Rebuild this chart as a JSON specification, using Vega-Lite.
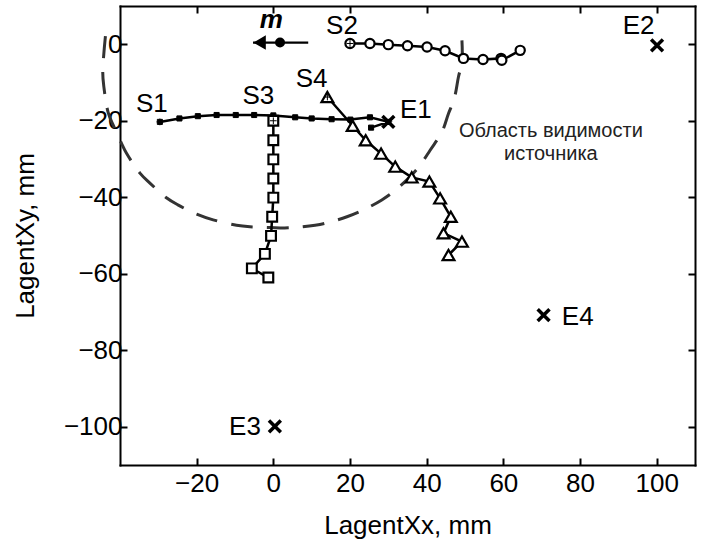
{
  "$schema": "https://vega.github.io/schema/vega-lite/v6.json",
  "width": 575,
  "height": 459,
  "autosize": "none",
  "padding": {"left": 120, "top": 6, "right": 9, "bottom": 83},
  "background": "white",
  "config": {
    "view": {"stroke": null},
    "font": "Liberation Sans",
    "axis": {
      "grid": false,
      "domainColor": "black",
      "domainWidth": 2,
      "domainCap": "square",
      "tickColor": "black",
      "tickWidth": 2,
      "tickSize": -7,
      "labelFont": "Liberation Sans",
      "labelFontSize": 26,
      "labelColor": "black",
      "titleFont": "Liberation Sans",
      "titleFontSize": 26,
      "titleFontWeight": "normal",
      "titleColor": "black"
    }
  },
  "datasets": {
    "ellipse": [
      {"x": -43.8, "y": 2.1}, {"x": -44.5, "y": -7.3}, {"x": -44.2, "y": -11.2}, {"x": -43.1, "y": -17.8},
      {"x": -41.8, "y": -21.1}, {"x": -39.6, "y": -25.9}, {"x": -38.3, "y": -28.5}, {"x": -34.8, "y": -33.7},
      {"x": -32.2, "y": -36.3}, {"x": -27.8, "y": -40.2}, {"x": -24.9, "y": -42.0}, {"x": -20.0, "y": -44.4},
      {"x": -15.7, "y": -45.9}, {"x": -9.6, "y": -47.3}, {"x": -6.1, "y": -47.7}, {"x": -0.9, "y": -47.9},
      {"x": 3.9, "y": -48.0}, {"x": 10.9, "y": -47.3}, {"x": 13.9, "y": -46.7}, {"x": 19.2, "y": -45.1},
      {"x": 23.5, "y": -43.3}, {"x": 28.3, "y": -40.7}, {"x": 31.3, "y": -38.6}, {"x": 35.7, "y": -34.6},
      {"x": 38.3, "y": -31.6}, {"x": 40.9, "y": -27.7}, {"x": 44.0, "y": -22.9}, {"x": 45.7, "y": -18.1},
      {"x": 47.2, "y": -14.2}, {"x": 48.3, "y": -8.5}, {"x": 49.2, "y": -4.7}, {"x": 49.2, "y": 1.0}
    ],
    "paths": [
      {"s": "S1", "x": -29.6, "y": -20.3}, {"s": "S1", "x": -24.5, "y": -19.4}, {"s": "S1", "x": -19.7, "y": -18.8},
      {"s": "S1", "x": -14.8, "y": -18.5}, {"s": "S1", "x": -9.8, "y": -18.5}, {"s": "S1", "x": -5.0, "y": -18.5},
      {"s": "S1", "x": 0.0, "y": -18.6}, {"s": "S1", "x": 5.7, "y": -19.1}, {"s": "S1", "x": 10.0, "y": -19.4},
      {"s": "S1", "x": 15.2, "y": -19.6}, {"s": "S1", "x": 20.1, "y": -19.7}, {"s": "S1", "x": 25.2, "y": -19.1},
      {"s": "S1", "x": 30.0, "y": -20.3}, {"s": "S1", "x": 25.5, "y": -21.8},
      {"s": "S2", "x": 20.0, "y": 0.2}, {"s": "S2", "x": 25.2, "y": 0.2}, {"s": "S2", "x": 30.0, "y": -0.1},
      {"s": "S2", "x": 35.0, "y": -0.4}, {"s": "S2", "x": 40.1, "y": -0.7}, {"s": "S2", "x": 44.8, "y": -1.7},
      {"s": "S2", "x": 49.6, "y": -3.7}, {"s": "S2", "x": 54.7, "y": -4.0}, {"s": "S2", "x": 59.4, "y": -3.7},
      {"s": "S2", "x": 59.6, "y": -4.2}, {"s": "S2", "x": 64.4, "y": -1.6},
      {"s": "S3", "x": 0.0, "y": -20.0}, {"s": "S3", "x": 0.0, "y": -25.1}, {"s": "S3", "x": 0.0, "y": -30.1},
      {"s": "S3", "x": 0.0, "y": -35.1}, {"s": "S3", "x": 0.0, "y": -40.1}, {"s": "S3", "x": -0.3, "y": -45.1},
      {"s": "S3", "x": -0.6, "y": -50.1}, {"s": "S3", "x": -2.2, "y": -54.8}, {"s": "S3", "x": -5.6, "y": -58.6},
      {"s": "S3", "x": -1.3, "y": -61.0},
      {"s": "S4", "x": 14.1, "y": -13.8}, {"s": "S4", "x": 20.7, "y": -21.3}, {"s": "S4", "x": 24.1, "y": -25.1},
      {"s": "S4", "x": 28.1, "y": -28.6}, {"s": "S4", "x": 31.8, "y": -32.0}, {"s": "S4", "x": 36.1, "y": -34.8},
      {"s": "S4", "x": 40.7, "y": -35.9}, {"s": "S4", "x": 43.5, "y": -40.3}, {"s": "S4", "x": 46.3, "y": -45.1},
      {"s": "S4", "x": 44.4, "y": -49.4}, {"s": "S4", "x": 49.2, "y": -51.6}, {"s": "S4", "x": 45.7, "y": -55.1}
    ],
    "starts": [
      {"x": -29.6, "y": -20.3}, {"x": 20.0, "y": 0.2}, {"x": 0.0, "y": -20.0}, {"x": 14.1, "y": -13.8}
    ],
    "ends": [
      {"x": 30.0, "y": -20.3}, {"x": 100.1, "y": -0.3}, {"x": 0.4, "y": -99.9}, {"x": 70.5, "y": -70.8}
    ],
    "labels": [
      {"x": -31.7, "y": -17.6, "t": "S1"}, {"x": 17.9, "y": 2.8, "t": "S2"}, {"x": -3.9, "y": -15.5, "t": "S3"},
      {"x": 10.0, "y": -11.1, "t": "S4"}, {"x": 37.2, "y": -19.4, "t": "E1"}, {"x": 95.3, "y": 2.8, "t": "E2"},
      {"x": -7.4, "y": -102.1, "t": "E3"}, {"x": 79.4, "y": -73.4, "t": "E4"}
    ],
    "notes": [
      {"x": 72.4, "y": -24.2, "t": "Область видимости"}, {"x": 72.4, "y": -30.3, "t": "источника"}
    ],
    "arrow": [{"x": -5.3, "y": 0.44}, {"x": 9.1, "y": 0.44}],
    "dot": [{"x": 1.75, "y": 0.44}],
    "head": [{"x": -3.6, "y": 0.44}],
    "mlabel": [{"x": -0.5, "y": 4.2, "t": "m"}]
  },
  "resolve": {"axis": {"x": "independent", "y": "independent"}},
  "encoding": {
    "x": {"field": "x", "type": "quantitative", "scale": {"domain": [-40, 110], "nice": false, "zero": false}, "axis": null},
    "y": {"field": "y", "type": "quantitative", "scale": {"domain": [-110, 10], "nice": false, "zero": false}, "axis": null}
  },
  "layer": [
    {
      "data": {"name": "ellipse"},
      "mark": {"type": "line", "stroke": "#333333", "strokeWidth": 3, "strokeDash": [22, 14], "interpolate": "catmull-rom"},
      "encoding": {
        "x": {"field": "x", "type": "quantitative", "scale": {"domain": [-40, 110], "nice": false, "zero": false},
          "axis": {"orient": "bottom", "values": [-20, 0, 20, 40, 60, 80, 100], "title": "LagentXx, mm", "labelPadding": 12, "titlePadding": 16, "labelFlush": false, "labelOverlap": false}},
        "y": {"field": "y", "type": "quantitative", "scale": {"domain": [-110, 10], "nice": false, "zero": false},
          "axis": {"orient": "left", "values": [-100, -80, -60, -40, -20, 0], "title": "LagentXy, mm", "labelPadding": 5, "titlePadding": 25, "labelFlush": false, "labelOverlap": false}},
        "order": {"value": null}
      }
    },
    {
      "data": {"name": "ellipse"},
      "mark": {"type": "point", "opacity": 0},
      "encoding": {
        "x": {"field": "x", "type": "quantitative", "scale": {"domain": [-40, 110], "nice": false, "zero": false},
          "axis": {"orient": "top", "values": [-20, 0, 20, 40, 60, 80, 100], "labels": false, "title": null}},
        "y": {"field": "y", "type": "quantitative", "scale": {"domain": [-110, 10], "nice": false, "zero": false},
          "axis": {"orient": "right", "values": [-100, -80, -60, -40, -20, 0], "labels": false, "title": null}}
      }
    },
    {
      "data": {"name": "paths"},
      "mark": {"type": "line", "stroke": "black", "strokeWidth": 2.5},
      "encoding": {"detail": {"field": "s"}, "order": {"value": null}}
    },
    {
      "data": {"name": "paths"},
      "transform": [{"filter": "datum.s === 'S1'"}],
      "mark": {"type": "point", "shape": "square", "size": 26, "filled": true, "fill": "black", "stroke": "black", "strokeWidth": 1, "opacity": 1},
      "encoding": {}
    },
    {
      "data": {"name": "paths"},
      "transform": [{"filter": "datum.s === 'S2'"}],
      "mark": {"type": "point", "shape": "circle", "size": 85, "filled": true, "fill": "white", "stroke": "black", "strokeWidth": 2.2, "opacity": 1},
      "encoding": {}
    },
    {
      "data": {"name": "paths"},
      "transform": [{"filter": "datum.s === 'S3'"}],
      "mark": {"type": "point", "shape": "square", "size": 95, "filled": true, "fill": "white", "stroke": "black", "strokeWidth": 2.2, "opacity": 1},
      "encoding": {}
    },
    {
      "data": {"name": "paths"},
      "transform": [{"filter": "datum.s === 'S4'"}],
      "mark": {"type": "point", "shape": "triangle-up", "size": 140, "filled": true, "fill": "white", "stroke": "black", "strokeWidth": 2.2, "opacity": 1},
      "encoding": {}
    },
    {
      "data": {"name": "starts"},
      "mark": {"type": "point", "shape": "M-1,0L1,0M0,-1L0,1", "size": 45, "stroke": "black", "strokeWidth": 1, "filled": false, "opacity": 1},
      "encoding": {}
    },
    {
      "data": {"name": "ends"},
      "mark": {"type": "point", "shape": "M-1,-1L1,1M1,-1L-1,1", "size": 140, "stroke": "black", "strokeWidth": 3.5, "filled": false, "opacity": 1},
      "encoding": {}
    },
    {
      "data": {"name": "arrow"},
      "mark": {"type": "line", "stroke": "black", "strokeWidth": 2.2},
      "encoding": {"order": {"value": null}}
    },
    {
      "data": {"name": "dot"},
      "mark": {"type": "point", "shape": "circle", "size": 100, "filled": true, "fill": "black", "opacity": 1},
      "encoding": {}
    },
    {
      "data": {"name": "head"},
      "mark": {"type": "point", "shape": "triangle-left", "size": 210, "filled": true, "fill": "black", "opacity": 1},
      "encoding": {}
    },
    {
      "data": {"name": "labels"},
      "mark": {"type": "text", "fontSize": 26, "font": "Liberation Sans", "align": "center", "baseline": "alphabetic", "fill": "black"},
      "encoding": {"text": {"field": "t"}}
    },
    {
      "data": {"name": "notes"},
      "mark": {"type": "text", "fontSize": 20, "font": "Liberation Sans", "align": "center", "baseline": "alphabetic", "fill": "#222222"},
      "encoding": {"text": {"field": "t"}}
    },
    {
      "data": {"name": "mlabel"},
      "mark": {"type": "text", "fontSize": 26, "font": "Liberation Sans", "fontStyle": "italic", "fontWeight": "bold", "align": "center", "baseline": "alphabetic", "fill": "black"},
      "encoding": {"text": {"field": "t"}}
    }
  ]
}
